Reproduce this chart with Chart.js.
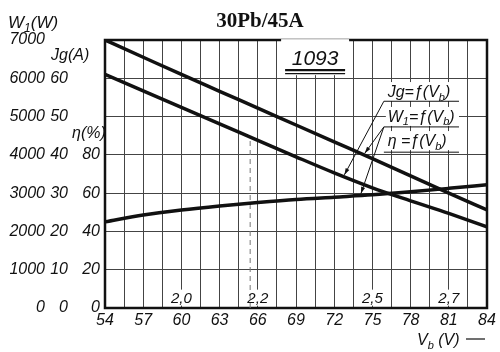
<!DOCTYPE html>
<html>
<head>
<meta charset="utf-8">
<script src="https://cdn.jsdelivr.net/npm/chart.js@4"></script>
<style>
  body { margin: 0; background: #fff; }
  canvas { display: block; }
</style>
</head>
<body>
<canvas id="myChart" width="500" height="352"></canvas>
<script>
// battery voltage Vb (V) and the three curves
const vb = [54, 57, 60, 63, 66, 69, 72, 75, 78, 81, 84];
const w1 = [7000, 6550, 6100, 5660, 5220, 4780, 4340, 3900, 3450, 3000, 2560];
const jg = [61, 56.7, 52.4, 48.1, 43.8, 39.5, 35.3, 31.4, 28.0, 24.7, 21.2];
const eta = [45, 48.6, 51.2, 53.3, 55.1, 56.7, 57.9, 59.1, 60.7, 62.5, 64.4];

// volts per cell written along the bottom row
const cellVolts = ["2,0", "2,2", "2,5", "2,7"];
const cellVoltsAt = [60, 66, 75, 81];

// dashed marker line
const dashVb = [65.4, 65.4];
const dashJg = [0, 44.5];

const FONT = "'Liberation Sans', sans-serif";
const INK = "#111";

function pts(xs, ys) {
  return xs.map((x, i) => ({ x: x, y: ys[i] }));
}

// text with subscript pieces: parts = [[text, isSub], ...]
function drawRich(ctx, parts, x, y, size) {
  let cx = x;
  parts.forEach((p) => {
    const s = p[1] ? Math.round(size * 0.68) : size;
    ctx.font = "italic " + s + "px " + FONT;
    ctx.fillText(p[0], cx, p[1] ? y + size * 0.22 : y);
    cx += ctx.measureText(p[0]).width;
  });
  return cx - x;
}

function curveAt(xs, ys, v) {
  for (let i = 0; i < xs.length - 1; i++) {
    if (v >= xs[i] && v <= xs[i + 1]) {
      const t = (v - xs[i]) / (xs[i + 1] - xs[i]);
      return ys[i] + t * (ys[i + 1] - ys[i]);
    }
  }
  return ys[ys.length - 1];
}

function arrowLine(ctx, x1, y1, x2, y2) {
  ctx.beginPath();
  ctx.moveTo(x1, y1);
  ctx.lineTo(x2, y2);
  ctx.lineWidth = 1;
  ctx.stroke();
  const a = Math.atan2(y2 - y1, x2 - x1);
  ctx.beginPath();
  ctx.moveTo(x2, y2);
  ctx.lineTo(x2 - 7 * Math.cos(a - 0.3), y2 - 7 * Math.sin(a - 0.3));
  ctx.lineTo(x2 - 7 * Math.cos(a + 0.3), y2 - 7 * Math.sin(a + 0.3));
  ctx.closePath();
  ctx.fill();
}

const framePlugin = {
  id: "frame",
  beforeDatasetsDraw(chart) {
    const { ctx, chartArea: a } = chart;
    const x = chart.scales.x;
    const yW = chart.scales.yW;
    ctx.save();
    // white patches behind the volts-per-cell labels
    ctx.fillStyle = "#fff";
    ctx.font = "italic 15px " + FONT;
    cellVolts.forEach((t, i) => {
      const w = ctx.measureText(t).width;
      ctx.fillRect(x.getPixelForValue(cellVoltsAt[i]) - w / 2 - 1, yW.getPixelForValue(480), w + 2, 16);
    });
    ctx.strokeStyle = INK;
    ctx.lineWidth = 2.5;
    ctx.strokeRect(a.left, a.top, a.right - a.left, a.bottom - a.top);
    ctx.restore();
  },
};

const notesPlugin = {
  id: "notes",
  afterDatasetsDraw(chart) {
    const ctx = chart.ctx;
    const x = chart.scales.x;
    const yW = chart.scales.yW;
    const yJ = chart.scales.yJ;
    const yE = chart.scales.yE;
    ctx.save();
    ctx.fillStyle = INK;
    ctx.strokeStyle = INK;
    ctx.textBaseline = "alphabetic";

    // title
    ctx.font = "bold 21px 'Liberation Serif', serif";
    ctx.textAlign = "center";
    ctx.fillText("30Pb/45A", 260, 27);
    ctx.textAlign = "left";

    // axis titles
    drawRich(ctx, [["W", 0], ["1", 1], ["(W)", 0]], 8, yW.getPixelForValue(7000) - 12, 17);
    drawRich(ctx, [["J", 0], ["g", 0], ["(A)", 0]], 51, yJ.getPixelForValue(65) + 1, 16);
    drawRich(ctx, [["η(%)", 0]], 72, yE.getPixelForValue(90) + 2, 16);
    drawRich(ctx, [["V", 0], ["b", 1], [" (V)", 0]], 417, 345, 16);
    ctx.beginPath();
    ctx.moveTo(466, 339);
    ctx.lineTo(485, 339);
    ctx.lineWidth = 1.2;
    ctx.stroke();

    // volts per cell
    ctx.textAlign = "center";
    ctx.font = "italic 15px " + FONT;
    cellVolts.forEach((t, i) => {
      ctx.fillText(t, x.getPixelForValue(cellVoltsAt[i]), yW.getPixelForValue(130));
    });

    // sheet number box
    const bx = x.getPixelForValue(70.5);
    const by = yW.getPixelForValue(6500);
    ctx.fillStyle = "#fff";
    ctx.fillRect(bx - 34, by - 20, 68, 36);
    ctx.fillStyle = INK;
    ctx.font = "italic 21px " + FONT;
    ctx.fillText("1093", bx, by + 6);
    ctx.lineWidth = 2.2;
    ctx.beginPath();
    ctx.moveTo(bx - 30, by + 11);
    ctx.lineTo(bx + 30, by + 11);
    ctx.stroke();
    ctx.lineWidth = 1.3;
    ctx.beginPath();
    ctx.moveTo(bx - 30, by + 14.5);
    ctx.lineTo(bx + 30, by + 14.5);
    ctx.stroke();
    ctx.textAlign = "left";

    // curve labels with underline and leader
    const lx = x.getPixelForValue(76.2);
    const ux0 = x.getPixelForValue(75.9);
    const ux1 = x.getPixelForValue(81.8);
    const labels = [
      { parts: [["J", 0], ["g", 0], ["=ƒ(V", 0], ["b", 1], [")", 0]], base: 5510, line: 5400 },
      { parts: [["W", 0], ["1", 1], ["=ƒ(V", 0], ["b", 1], [")", 0]], base: 4860, line: 4730 },
      { parts: [["η =ƒ(V", 0], ["b", 1], [")", 0]], base: 4230, line: 4070 },
    ];
    labels.forEach((l) => {
      const yb = yW.getPixelForValue(l.base);
      const yl = yW.getPixelForValue(l.line);
      ctx.fillStyle = "#fff";
      ctx.fillRect(ux0 + 2, yb - 15, ux1 - ux0 - 2, 19);
      ctx.fillStyle = INK;
      drawRich(ctx, l.parts, lx, yb, 16);
      ctx.beginPath();
      ctx.moveTo(ux0, yl);
      ctx.lineTo(ux1, yl);
      ctx.lineWidth = 1;
      ctx.stroke();
    });

    const y1 = yW.getPixelForValue(5400);
    const y2 = yW.getPixelForValue(4730);
    arrowLine(ctx, ux0, y1, x.getPixelForValue(72.8), yJ.getPixelForValue(curveAt(vb, jg, 72.8)) - 2);
    arrowLine(ctx, ux0, y2, x.getPixelForValue(74.4), yW.getPixelForValue(curveAt(vb, w1, 74.4)) - 2);
    arrowLine(ctx, ux0, y2, x.getPixelForValue(74.1), yE.getPixelForValue(curveAt(vb, eta, 74.1)) - 2);

    ctx.restore();
  },
};

const tickFont = { family: FONT, size: 16, style: "italic" };

const lineStyle = {
  borderColor: INK,
  borderWidth: 3.5,
  pointRadius: 0,
  fill: false,
  cubicInterpolationMode: "monotone",
};

const ctx = document.getElementById("myChart").getContext("2d");
const chart = new Chart(ctx, {
  type: "line",
  data: {
    datasets: [
      Object.assign({ label: "W1", data: pts(vb, w1), yAxisID: "yW" }, lineStyle),
      Object.assign({ label: "Jg", data: pts(vb, jg), yAxisID: "yJ" }, lineStyle),
      Object.assign({ label: "eta", data: pts(vb, eta), yAxisID: "yE" }, lineStyle),
      {
        label: "dash",
        data: pts(dashVb, dashJg),
        yAxisID: "yJ",
        borderColor: "#777",
        borderWidth: 1,
        borderDash: [5, 4],
        pointRadius: 0,
      },
    ],
  },
  options: {
    responsive: false,
    animation: false,
    devicePixelRatio: 1,
    layout: { padding: { top: 40, right: 13, left: 0, bottom: 0 } },
    plugins: {
      legend: { display: false },
      tooltip: { enabled: false },
    },
    scales: {
      x: {
        type: "linear",
        min: 54,
        max: 84,
        ticks: {
          stepSize: 1.5,
          autoSkip: false,
          maxRotation: 0,
          padding: 3,
          color: INK,
          font: tickFont,
          callback: (v) => (v % 3 === 0 ? v : ""),
        },
        grid: { color: "#444", lineWidth: 1, drawTicks: false },
        border: { display: false },
        afterFit: (s) => {
          s.height = 44;
        },
      },
      yW: {
        position: "left",
        weight: 3,
        min: 0,
        max: 7000,
        ticks: {
          stepSize: 500,
          padding: 3,
          color: INK,
          font: tickFont,
          callback: (v) => (v % 1000 === 0 ? v : ""),
        },
        grid: { color: "#444", lineWidth: 1, drawTicks: false },
        border: { display: false },
        afterFit: (s) => {
          s.width = 48;
        },
      },
      yJ: {
        position: "left",
        weight: 2,
        min: 0,
        max: 70,
        ticks: {
          stepSize: 10,
          padding: 2,
          color: INK,
          font: tickFont,
          callback: (v) => (v <= 60 ? v : ""),
        },
        grid: { display: false, drawTicks: false },
        border: { display: false },
        afterFit: (s) => {
          s.width = 22;
        },
      },
      yE: {
        position: "left",
        weight: 1,
        min: 0,
        max: 140,
        ticks: {
          stepSize: 20,
          padding: 5,
          color: INK,
          font: tickFont,
          callback: (v) => (v <= 80 ? v : ""),
        },
        grid: { display: false, drawTicks: false },
        border: { display: false },
        afterFit: (s) => {
          s.width = 35;
        },
      },
    },
  },
  plugins: [framePlugin, notesPlugin],
});
</script>
</body>
</html>
